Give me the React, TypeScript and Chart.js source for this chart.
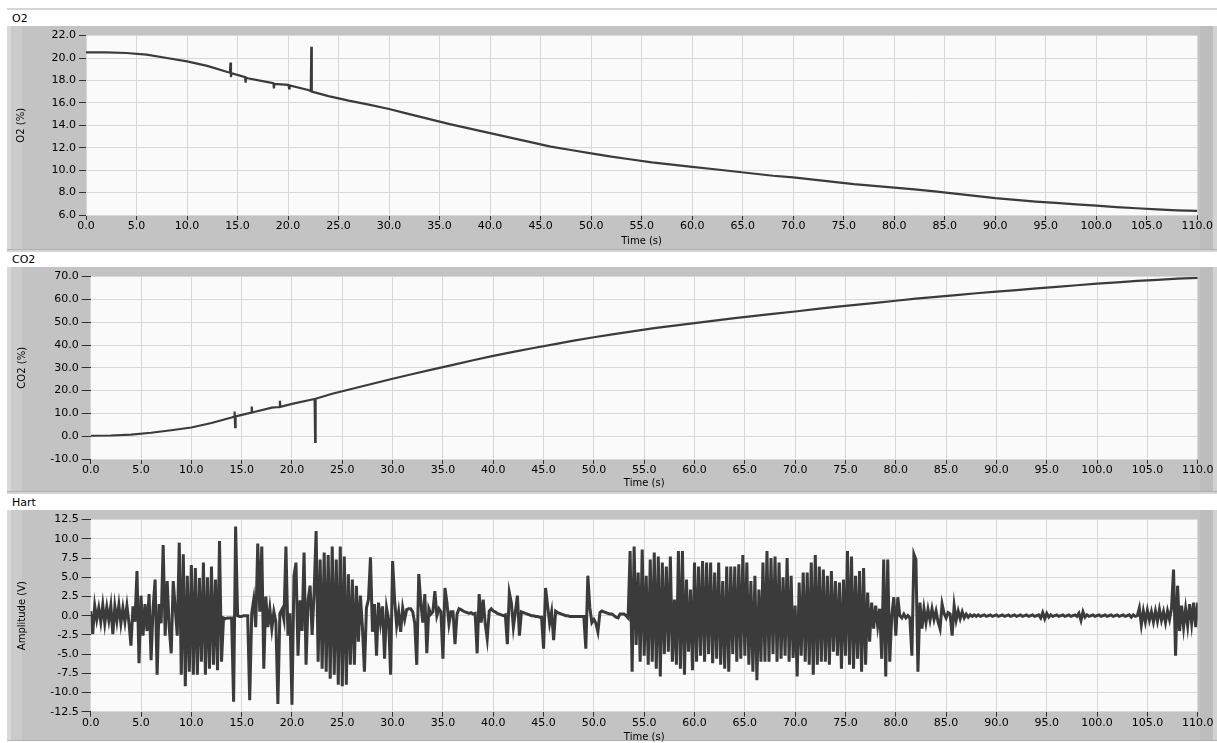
import React, { useEffect, useRef } from "react";
import { Chart, registerables } from "chart.js";

Chart.register(...registerables);

const FONT = "'DejaVu Sans', Verdana, sans-serif";

// ---------- DATA ----------
const timeMin = 0;
const timeMax = 110;
const timeStep = 5;

// O2 (%) — time (s) / value, with the short sensor spikes included
const o2Time = [
  0, 2, 4, 6, 8, 10, 12, 14, 14.25, 14.3, 14.35, 14.4, 15.75, 15.8, 15.85, 16, 18, 18.55, 18.6, 18.65,
  20, 20.05, 20.1, 20.15, 22, 22.25, 22.3, 22.35, 24, 26, 28, 30, 32, 34, 36, 38, 40, 42, 44, 46, 48,
  50, 52, 54, 56, 58, 60, 62, 64, 66, 68, 70, 72, 74, 76, 78, 80, 82, 84, 86, 88, 90, 92, 94, 96, 98,
  100, 102, 104, 106, 108, 110,
];
const o2Value = [
  20.5, 20.5, 20.45, 20.3, 20.0, 19.7, 19.3, 18.75, 18.7, 19.6, 18.3, 18.65, 18.3, 17.8, 18.25, 18.2, 17.85, 17.75, 17.3, 17.7,
  17.6, 17.55, 17.3, 17.55, 17.15, 17.05, 21.0, 17.0, 16.6, 16.2, 15.85, 15.45, 15.0, 14.55, 14.1, 13.7, 13.3, 12.9, 12.5, 12.1, 11.8,
  11.5, 11.2, 10.95, 10.7, 10.5, 10.3, 10.1, 9.9, 9.7, 9.5, 9.35, 9.15, 8.95, 8.75, 8.6, 8.45, 8.28, 8.1, 7.9, 7.7, 7.5, 7.35, 7.2, 7.08, 6.95,
  6.83, 6.7, 6.6, 6.5, 6.42, 6.36,
];

// CO2 (%)
const co2Time = [
  0, 2, 4, 6, 8, 10, 12, 14, 14.25, 14.3, 14.35, 14.4, 15.95, 16, 16.05, 18, 18.75, 18.8, 18.85, 20,
  22, 22.25, 22.3, 22.35, 24, 26, 28, 30, 32, 34, 36, 38, 40, 42, 44, 46, 48, 50, 52, 54, 56, 58, 60,
  62, 64, 66, 68, 70, 72, 74, 76, 78, 80, 82, 84, 86, 88, 90, 92, 94, 96, 98, 100, 102, 104, 106, 108, 110,
];
const co2Value = [
  0.2, 0.3, 0.7, 1.5, 2.6, 3.8, 5.8, 8.2, 8.6, 10.8, 4.0, 8.7, 10.3, 13.0, 10.4, 12.5, 12.8, 15.5, 12.9, 14.2,
  16.1, 16.3, -2.5, 16.4, 18.6, 20.8, 23.0, 25.2, 27.3, 29.3, 31.3, 33.3, 35.2, 37.0, 38.7, 40.3, 41.9, 43.4, 44.8, 46.1, 47.4, 48.5, 49.6,
  50.7, 51.8, 52.8, 53.8, 54.7, 55.7, 56.7, 57.6, 58.5, 59.4, 60.3, 61.1, 61.9, 62.7, 63.4, 64.1, 64.8, 65.5, 66.2, 66.9, 67.5, 68.1, 68.6, 69.1, 69.4,
];

// Heart signal amplitude (V), sampled every 0.2 s from 0 to 110 s
const hartStep = 0.2;
const hartValue = [
  0.6, -2.4, 1.3, -0.5, 1.0,
  -0.8, 1.4, -1.0, 1.1, -0.6,
  1.3, -2.4, 1.2, -0.7, 1.4,
  -1.0, 1.0, -0.8, 1.3, -0.9,
  -3.9, 1.2, -0.8, 5.8, -6.2,
  2.6, -2.6, 1.5, -2.0, 2.8,
  -5.8, 1.0, 4.7, -7.7, 1.5,
  -1.0, 9.2, -2.6, 4.5, -1.5,
  -4.9, 4.5, 1.0, -2.6, 9.5,
  -7.7, 8.0, -9.2, 5.2, -7.3,
  6.6, -7.7, 6.2, -7.7, 4.9,
  -6.0, 6.9, -7.7, 5.0, -6.9,
  6.4, -6.4, 4.7, -7.1, 9.7,
  -6.0, -0.3, -0.4, -0.3, -0.3,
  -0.3, -11.2, 11.6, 0.0, -0.1,
  -0.1, 0.0, 0.0, 0.0, -11.0,
  0.3, 2.1, -1.5, 9.4, 0.5,
  9.0, -6.9, 2.5, -1.5, 0.9,
  -1.7, 0.5, -0.8, -11.5, 0.3,
  0.8, -0.5, 9.0, -2.6, 0.3,
  -11.6, 5.2, 6.9, -5.2, 2.0,
  -2.0, 8.2, -6.4, 2.0, 3.9,
  -2.5, 3.0, 11.0, -6.0, 7.3,
  -6.9, 8.2, -7.3, 7.9, -8.2,
  9.0, -7.7, 7.3, -9.0, 9.0,
  -9.2, 7.7, -9.0, 5.4, -6.4,
  4.7, -6.4, 3.9, -3.4, 2.6,
  -1.5, -7.3, 1.0, 2.1, 7.6,
  -2.1, 1.5, -5.2, 1.7, -0.9,
  1.2, -5.6, 1.0, -0.5, -7.7,
  7.1, 2.1, -1.3, 0.5, -2.1,
  1.0, -0.5, 0.8, 0.9, 0.9,
  0.5, -1.0, -6.4, 5.4, 1.7,
  -0.9, 2.8, -4.9, 0.9, 0.2,
  0.5, 3.2, 0.0, 0.9, 0.5,
  -5.6, 3.6, 1.7, -1.1, 0.5,
  0.5, -3.7, 0.2, 0.9, 0.8,
  0.6, 0.5, 0.4, 0.3, 0.4,
  0.2, 0.3, -4.9, 2.8, -0.9,
  2.1, -1.0, -3.0, 0.6, 0.9,
  0.6, 0.5, 0.3, 0.2, 0.1,
  0.0, 0.1, -3.7, 3.0, 1.7,
  -1.5, 0.5, 2.6, -2.6, 0.5,
  0.4, 0.3, 0.2, 0.1, 0.0,
  0.0, -0.1, -0.1, -0.2, -0.2,
  -4.3, 3.6, 1.3, -1.0, 0.5,
  -3.2, 0.6, 0.4, 0.3, 0.2,
  0.1, 0.0, 0.0, -0.1, -0.1,
  -0.1, -0.1, -0.1, -0.1, -0.1,
  -0.1, -4.3, 5.2, 1.0, -0.9,
  -0.5, -1.0, -2.1, 0.4, 0.6,
  0.5, 0.4, 0.3, 0.2, 0.2,
  0.0, -0.2, -0.3, 0.2, 0.2,
  0.2, 0.0, -0.3, 8.4, -7.3,
  9.0, -3.8, 5.6, -6.0, 8.6,
  -5.2, 5.2, -6.4, 7.3, -6.0,
  8.2, -6.9, 7.7, -7.9, 6.9,
  -5.0, 6.4, -4.7, 7.7, -6.0,
  2.1, -6.4, 8.4, -6.9, 8.4,
  -7.7, 4.7, -4.7, 3.4, -7.1,
  6.9, -6.0, 6.4, -5.2, 7.1,
  -6.0, 6.9, -5.0, 6.9, -6.2,
  5.6, -5.6, 6.9, -6.4, 4.5,
  -6.9, 6.4, -7.3, 6.4, -5.0,
  6.4, -6.0, 6.7, -5.6, 7.9,
  -5.2, 6.9, -6.4, 4.5, -7.3,
  5.2, -8.4, 3.4, -6.0, 6.9,
  -6.0, 8.4, -6.0, 7.5, -5.0,
  7.7, -6.0, 6.9, -5.6, 5.0,
  -5.2, 7.5, -6.0, 5.2, -5.5,
  1.3, -7.9, 4.3, -5.2, 5.6,
  -6.0, 5.6, -6.4, 6.9, -7.7,
  7.9, -6.4, 6.4, -6.0, 6.0,
  -6.0, 5.2, -6.4, 5.8, -4.7,
  4.5, -5.2, 4.3, -6.9, 4.7,
  -5.2, 8.4, -6.4, 7.7, -6.9,
  5.2, -5.6, 5.8, -7.3, 6.2,
  -6.4, 3.0, -3.4, 1.7, -1.7,
  1.3, -1.3, 0.9, -5.6, 7.3,
  -7.9, 7.3, -6.0, 0.0, 2.4,
  -2.6, 2.4, 0.0, -0.3, 0.2,
  -0.3, 0.0, -0.3, -5.2, 8.0,
  7.3, -7.3, 1.7, -1.7, 0.9,
  -0.9, 0.8, -0.6, 0.9, -0.5,
  0.6, -0.8, -1.7, 1.5, 0.3,
  -0.3, 0.4, 0.2, -2.6, 1.3,
  -0.6, 0.6, -0.4, 0.5, -0.3,
  0.2, -0.2, 0.1, -0.1, 0.1,
  -0.1, 0.1, -0.1, 0.0, 0.1,
  -0.1, 0.0, 0.1, -0.1, 0.0,
  0.1, -0.1, 0.0, 0.1, -0.1,
  0.0, 0.1, -0.1, 0.0, 0.1,
  -0.1, 0.0, 0.1, -0.1, 0.0,
  0.1, -0.1, 0.0, 0.1, -0.1,
  0.0, 0.1, -0.3, 0.4, -0.4,
  0.3, -0.2, 0.1, -0.1, 0.0,
  0.1, -0.1, 0.0, 0.1, -0.1,
  0.0, 0.1, -0.1, 0.0, 0.1,
  -0.1, 0.3, -0.6, 0.5, -0.2,
  0.1, -0.1, 0.0, 0.1, -0.1,
  0.0, 0.1, -0.1, 0.0, 0.1,
  -0.1, 0.0, 0.1, -0.1, 0.0,
  0.1, -0.1, 0.0, 0.1, -0.1,
  0.0, 0.1, -0.2, 0.1, -0.1,
  0.0, 1.0, -1.2, 0.6, -0.8,
  0.7, -0.6, 0.5, -0.8, 0.6,
  -0.7, 0.8, -0.6, 0.5, -0.9,
  0.6, -0.5, 1.0, 6.0, -5.2,
  3.9, -2.0, 1.3, -1.5, 0.9,
  -1.3, 1.5, -1.0, 1.7, -1.5,
  1.7,
];

// ---------- STYLE / LAYOUT ----------
const LINE = "#3b3b3b";
const GRID = "#d8d8d8";
const PANEL_BG = "#c3c3c3";
const CANVAS_LEFT = 7;
const CANVAS_W = 1210;

type Pt = { x: number; y: number };
type PanelCfg = {
  title: string;
  yTitle: string;
  yMin: number;
  yMax: number;
  yStep: number;
  borderTop: number;
  bodyTop: number;
  bodyBottom: number;
  canvasBottom: number;
  plotL: number;
  plotR: number;
  plotT: number;
  plotB: number;
  yTickLen: number;
  yTitleX: number;
  xTitleY: number;
  lineWidth: number;
  points: Pt[];
};

const plotBg = {
  id: "plotBg",
  beforeDraw(chart: any) {
    const { ctx, chartArea: a } = chart;
    ctx.save();
    ctx.fillStyle = "#fafafa";
    ctx.fillRect(a.left, a.top, a.right - a.left, a.bottom - a.top);
    ctx.restore();
  },
};

function Panel({ cfg }: { cfg: PanelCfg }) {
  const ref = useRef<HTMLCanvasElement | null>(null);
  const canvasH = cfg.canvasBottom - cfg.bodyTop;
  useEffect(() => {
    if (!ref.current) return;
    const chart = new Chart(ref.current, {
      type: "line",
      data: {
        datasets: [
          {
            data: cfg.points,
            borderColor: LINE,
            borderWidth: cfg.lineWidth,
            pointRadius: 0,
            tension: 0,
            fill: false,
          },
        ],
      },
      options: {
        animation: false,
        responsive: false,
        devicePixelRatio: 1,
        events: [],
        layout: {
          padding: {
            left: 0,
            top: cfg.plotT - cfg.bodyTop,
            right: CANVAS_LEFT + CANVAS_W - cfg.plotR,
            bottom: 0,
          },
        },
        plugins: { legend: { display: false }, tooltip: { enabled: false } },
        scales: {
          x: {
            type: "linear",
            min: timeMin,
            max: timeMax,
            ticks: {
              stepSize: timeStep,
              autoSkip: false,
              maxRotation: 0,
              padding: 0,
              color: "#000",
              font: { family: FONT, size: 11 },
              callback: (v: any) => Number(v).toFixed(1),
            },
            grid: { color: GRID, tickColor: "#303030", tickLength: 5, lineWidth: 1 },
            border: { display: false },
            title: {
              display: true,
              text: "Time (s)",
              color: "#000",
              font: { family: FONT, size: 10 },
              padding: { top: 0, bottom: cfg.canvasBottom - cfg.xTitleY - 6 },
            },
            afterFit: (s: any) => {
              s.height = cfg.canvasBottom - cfg.plotB;
            },
          },
          y: {
            type: "linear",
            min: cfg.yMin,
            max: cfg.yMax,
            ticks: {
              stepSize: cfg.yStep,
              autoSkip: false,
              padding: 3,
              color: "#000",
              font: { family: FONT, size: 11 },
              callback: (v: any) => Number(v).toFixed(1),
            },
            grid: { color: GRID, tickColor: "#303030", tickLength: cfg.yTickLen, lineWidth: 1 },
            border: { display: false },
            title: {
              display: true,
              text: cfg.yTitle,
              color: "#000",
              font: { family: FONT, size: 10 },
              padding: { top: cfg.yTitleX - CANVAS_LEFT - 6, bottom: 0 },
            },
            afterFit: (s: any) => {
              s.width = cfg.plotL - CANVAS_LEFT;
            },
          },
        },
      } as any,
      plugins: [plotBg],
    });
    return () => chart.destroy();
  }, []);

  return (
    <>
      <div
        style={{
          position: "absolute",
          left: CANVAS_LEFT,
          top: cfg.borderTop,
          width: CANVAS_W,
          height: cfg.bodyTop - cfg.borderTop,
          boxSizing: "border-box",
          borderTop: "2px solid #d6d6d6",
          background: "#ffffff",
        }}
      >
        <span
          style={{
            position: "absolute",
            left: 5,
            top: 0,
            bottom: 0,
            display: "flex",
            alignItems: "center",
            fontFamily: FONT,
            fontSize: 11,
            color: "#000",
          }}
        >
          {cfg.title}
        </span>
      </div>
      <div
        style={{
          position: "absolute",
          left: CANVAS_LEFT,
          top: cfg.bodyTop,
          width: CANVAS_W,
          height: cfg.bodyBottom - cfg.bodyTop,
          background:
            "linear-gradient(to right, #d9d9d9 0px, #d9d9d9 4px, #cbcbcb 4px, #cbcbcb 15px, " +
            PANEL_BG +
            " 15px, " +
            PANEL_BG +
            " 1193px, #bdbdbd 1193px, #bdbdbd 1206px, #d2d2d2 1206px)",
          borderBottom: "1px solid #b0b0b0",
          boxSizing: "border-box",
        }}
      />
      <canvas
        ref={ref}
        width={CANVAS_W}
        height={canvasH}
        style={{
          position: "absolute",
          left: CANVAS_LEFT,
          top: cfg.bodyTop,
          width: CANVAS_W,
          height: canvasH,
        }}
      />
    </>
  );
}

const toPts = (t: number[], v: number[]): Pt[] => v.map((y, i) => ({ x: t[i], y }));

export default function App() {
  const hartPts: Pt[] = hartValue.map((y, i) => ({ x: Math.round(i * hartStep * 100) / 100, y }));
  const panels: PanelCfg[] = [
    {
      title: "O2",
      yTitle: "O2 (%)",
      yMin: 6,
      yMax: 22,
      yStep: 2,
      borderTop: 8,
      bodyTop: 26,
      bodyBottom: 250,
      canvasBottom: 250,
      plotL: 86,
      plotR: 1197.3,
      plotT: 35,
      plotB: 215,
      yTickLen: 7,
      yTitleX: 21,
      xTitleY: 241,
      lineWidth: 2.2,
      points: toPts(o2Time, o2Value),
    },
    {
      title: "CO2",
      yTitle: "CO2 (%)",
      yMin: -10,
      yMax: 70,
      yStep: 10,
      borderTop: 250,
      bodyTop: 267,
      bodyBottom: 492,
      canvasBottom: 492,
      plotL: 90.7,
      plotR: 1197.7,
      plotT: 274,
      plotB: 459,
      yTickLen: 9,
      yTitleX: 22,
      xTitleY: 483,
      lineWidth: 2.2,
      points: toPts(co2Time, co2Value),
    },
    {
      title: "Hart",
      yTitle: "Amplitude (V)",
      yMin: -12.5,
      yMax: 12.5,
      yStep: 2.5,
      borderTop: 492,
      bodyTop: 510,
      bodyBottom: 741,
      canvasBottom: 743,
      plotL: 90.7,
      plotR: 1197.7,
      plotT: 517.7,
      plotB: 711.7,
      yTickLen: 9,
      yTitleX: 22,
      xTitleY: 737,
      lineWidth: 3,
      points: hartPts,
    },
  ];
  return (
    <div>
      {panels.map((p) => (
        <Panel key={p.title} cfg={p} />
      ))}
    </div>
  );
}
